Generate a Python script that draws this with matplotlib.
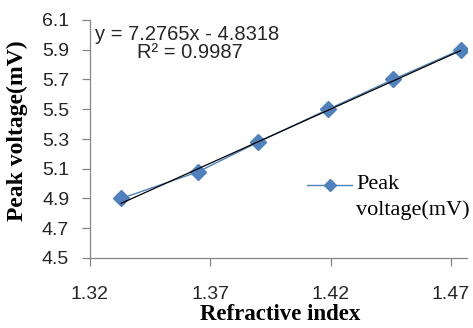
import numpy as np
import matplotlib.pyplot as plt
from matplotlib.lines import Line2D

# values
refractive_index = [1.333, 1.365, 1.390, 1.419, 1.446, 1.474]
peak_voltage = [4.90, 5.08, 5.28, 5.50, 5.70, 5.90]
fit_slope, fit_intercept = 7.2765, -4.8318
r_squared = 0.9987

x_ticks = [1.32, 1.37, 1.42, 1.47]
y_ticks = [4.5, 4.7, 4.9, 5.1, 5.3, 5.5, 5.7, 5.9, 6.1]

W, H = 473, 328
blue = "#4f81bd"
grey = "#868686"
tick_font = "Liberation Sans"
serif = "Liberation Serif"

fig = plt.figure(figsize=(W / 100, H / 100), dpi=100)
fig.patch.set_facecolor("white")


def px(x, y):
    # pixel position (from top-left) -> figure fraction
    return x / W, 1 - y / H


ax = fig.add_axes([90 / W, 70 / H, (467 - 90) / W, (258 - 20) / H])

ax.plot(refractive_index, peak_voltage, color=blue, lw=1.0, marker="D",
        markersize=8.5, markerfacecolor=blue, markeredgecolor=blue, zorder=3)

fit_x = np.array([refractive_index[0], refractive_index[-1]])
ax.plot(fit_x, fit_slope * fit_x + fit_intercept, color="black", lw=0.9, zorder=4)

ax.set_xlim(1.32, 1.32 + (467 - 90) / 120.3 * 0.05)
ax.set_ylim(4.5, 6.1)
ax.set_xticks(x_ticks)
ax.set_xticklabels([f"{v:.2f}" for v in x_ticks])
ax.set_yticks(y_ticks)
ax.set_yticklabels([f"{v:.1f}" for v in y_ticks])

for s in ["top", "right"]:
    ax.spines[s].set_visible(False)
for s in ["left", "bottom"]:
    ax.spines[s].set_color(grey)
    ax.spines[s].set_linewidth(0.9)

ax.tick_params(axis="both", colors=grey, length=6, width=0.9, direction="out",
               labelsize=14, labelcolor="#262626")
ax.tick_params(axis="x", pad=14)
ax.tick_params(axis="y", pad=9)
for lbl in ax.get_xticklabels() + ax.get_yticklabels():
    lbl.set_fontfamily(tick_font)

fig.text(*px(280, 315), "Refractive index", ha="center", va="center",
         fontsize=16.5, fontweight="bold", family=serif)
fig.text(*px(17, 131), "Peak voltage(mV)", ha="center", va="center", rotation=90,
         fontsize=17, fontweight="bold", family=serif)

fig.text(*px(95, 34), f"y = {fit_slope}x - {abs(fit_intercept)}", ha="left", va="center",
         fontsize=14.5, family=tick_font, color="#262626")
fig.text(*px(137, 53), f"R² = {r_squared}", ha="left", va="center",
         fontsize=14.5, family=tick_font, color="#262626")

# legend key
fig.add_artist(Line2D([307 / W, 352 / W], [1 - 185 / H] * 2, transform=fig.transFigure,
                      color=blue, lw=1.0))
fig.add_artist(Line2D([329.5 / W], [1 - 185 / H], transform=fig.transFigure, color=blue,
                      marker="D", markersize=6.5, markerfacecolor=blue, markeredgecolor=blue))
fig.text(*px(356, 184), "Peak", ha="left", va="center", fontsize=16, family=serif)
fig.text(*px(356, 210), "voltage(mV)", ha="left", va="center", fontsize=16, family=serif)

fig.savefig("out.png", dpi=100)
